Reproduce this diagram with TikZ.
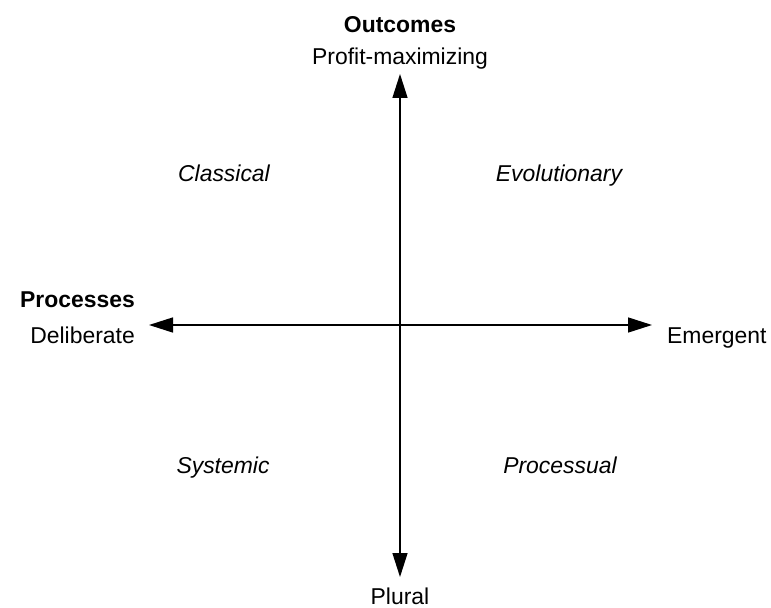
\documentclass[tikz,border=0pt]{standalone}
\usepackage{fontspec}
\setmainfont{Liberation Sans}
\usetikzlibrary{arrows.meta}
\begin{document}
\begin{tikzpicture}[x=1bp,y=-1bp,
  axis/.style={line width=1.5bp,-{Triangle[length=24bp,width=15bp]}},
  lab/.style={inner sep=0pt,anchor=base,font=\fontsize{23}{27}\selectfont},
  quad/.style={lab,font=\fontsize{23}{27}\selectfont\itshape},
  head/.style={lab,font=\fontsize{23}{27}\selectfont\bfseries}]
\useasboundingbox (0,0) rectangle (771,608);
\coordinate (c) at (400,325);
\coordinate (top) at (400,74);
\coordinate (bot) at (400,577);
\coordinate (lft) at (149,325);
\coordinate (rgt) at (652,325);
\draw[axis] (c) -- (top);
\draw[axis] (c) -- (bot);
\draw[axis] (c) -- (lft);
\draw[axis] (c) -- (rgt);
\node[head] (outc) at (400,33) {Outcomes};
\node[lab] (profit) at (400,65) {Profit-maximizing};
\node[head,anchor=base east] (proc) at (135,307) {Processes};
\node[lab,anchor=base east] (delib) at (135,343) {Deliberate};
\node[lab,anchor=base west] (emer) at (667,343) {Emergent};
\node[lab] (plural) at (400,604) {Plural};
\node[quad] (classical) at (224,182) {Classical};
\node[quad] (evol) at (559,182) {Evolutionary};
\node[quad] (syst) at (223,473) {Systemic};
\node[quad] (procs) at (560,473) {Processual};
\end{tikzpicture}
\end{document}
